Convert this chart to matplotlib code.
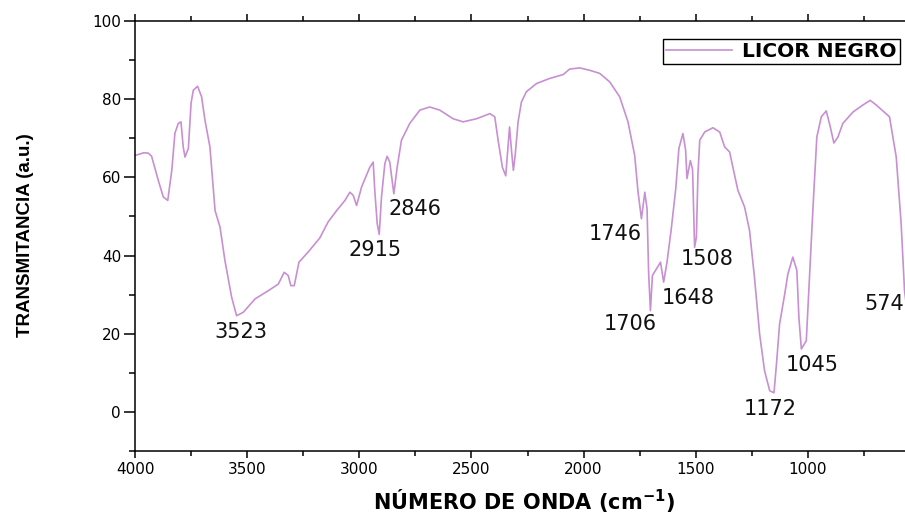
import matplotlib
matplotlib.use("Agg")
import matplotlib.pyplot as plt
from matplotlib.ticker import MultipleLocator

wavenumber = [4000, 3960, 3941, 3926, 3896, 3874, 3854, 3836, 3822, 3807, 3795, 3785, 3777, 3762,
              3750, 3740, 3721, 3703, 3688, 3666, 3643, 3621, 3599, 3569, 3547, 3517, 3465, 3406,
              3361, 3335, 3317, 3305, 3290, 3269, 3228, 3176, 3139, 3101, 3064, 3042, 3027, 3012,
              2990, 2953, 2938, 2931, 2920, 2911, 2901, 2886, 2876, 2864, 2846, 2831, 2812, 2775,
              2730, 2686, 2641, 2582, 2537, 2477, 2418, 2396, 2381, 2362, 2347, 2337, 2330, 2320,
              2313, 2305, 2292, 2277, 2255, 2210, 2151, 2091, 2062, 2017, 1973, 1928, 1883, 1839,
              1802, 1772, 1757, 1742, 1727, 1717, 1710, 1702, 1693, 1675, 1657, 1643, 1628, 1609,
              1589, 1575, 1557, 1545, 1539, 1524, 1514, 1505, 1497, 1490, 1482, 1460, 1423, 1393,
              1371, 1349, 1312, 1282, 1260, 1238, 1215, 1193, 1170, 1151, 1140, 1126, 1103, 1089,
              1067, 1049, 1040, 1029, 1007, 992, 977, 960, 940, 918, 900, 884, 866, 844, 799, 755,
              722, 695, 636, 606, 584, 569, 560]
transmittance = [65.6, 66.3, 66.2, 65.4, 59.2, 55.0, 54.1, 61.8, 71.3, 73.8, 74.2, 67.8, 65.2, 67.4,
                 79.0, 82.3, 83.3, 80.6, 74.6, 67.8, 51.5, 47.3, 38.7, 29.3, 24.6, 25.5, 28.9, 31.0,
                 32.7, 35.7, 34.9, 32.3, 32.3, 38.3, 40.9, 44.5, 48.6, 51.5, 54.1, 56.2, 55.4, 52.8,
                 57.5, 62.6, 63.9, 56.7, 48.1, 45.4, 55.0, 63.5, 65.4, 63.9, 55.8, 62.6, 69.5, 73.8,
                 77.2, 78.0, 77.2, 75.0, 74.2, 75.0, 76.3, 75.5, 69.5, 62.6, 60.4, 67.8, 72.9, 66.0,
                 61.8, 65.6, 74.2, 79.3, 81.9, 84.0, 85.3, 86.3, 87.7, 88.0, 87.4, 86.6, 84.4, 80.6,
                 74.2, 65.6, 56.2, 49.4, 56.2, 52.0, 35.7, 25.9, 34.9, 36.6, 38.3, 33.2, 38.3, 46.8,
                 57.1, 67.4, 71.2, 67.0, 59.7, 64.3, 62.0, 42.1, 44.7, 60.9, 69.5, 71.6, 72.7, 71.6,
                 67.8, 66.5, 56.7, 52.4, 46.4, 34.4, 19.9, 10.5, 5.4, 4.9, 12.2, 22.5, 30.2, 35.3,
                 39.6, 36.2, 24.2, 16.1, 18.2, 35.3, 52.4, 70.3, 75.5, 77.0, 72.9, 68.8, 70.3, 73.8,
                 76.7, 78.5, 79.7, 78.5, 75.5, 65.2, 48.1, 31.0, 27.0]

peak_labels = ["3523", "2915", "2846", "1746", "1706", "1648", "1508", "1172", "1045", "574"]
label_x = [3530, 2930, 2752, 1857, 1794, 1535, 1451, 1166, 979, 747]
label_y = [20.5, 41.5, 51.8, 45.6, 22.6, 29.2, 39.0, 0.8, 12.0, 27.7]
label_ha = ["center"] * 9 + ["left"]

series_name = "LICOR NEGRO"
x_ticks = [4000, 3500, 3000, 2500, 2000, 1500, 1000]
y_ticks = [0, 20, 40, 60, 80, 100]

line_color = "#c88fd2"

fig = plt.figure(figsize=(9.05, 5.15), dpi=100)
ax = fig.add_axes([135 / 905, 64 / 515, 785 / 905, 430 / 515])

ax.plot(wavenumber, transmittance, color=line_color, lw=1.2, label=series_name)

ax.set_xlim(4000, 500)
ax.set_ylim(-10, 100)
ax.set_xticks(x_ticks)
ax.set_yticks(y_ticks)
ax.xaxis.set_minor_locator(MultipleLocator(250))
ax.yaxis.set_minor_locator(MultipleLocator(10))
ax.tick_params(axis="x", which="major", direction="out", length=5, width=1.1,
               labelsize=11, top=True, pad=3)
ax.tick_params(axis="x", which="minor", direction="out", length=3.5, width=1.1, top=True)
ax.tick_params(axis="y", which="major", direction="out", length=8, width=1.1,
               labelsize=11, pad=2)
ax.tick_params(axis="y", which="minor", direction="out", length=4, width=1.1)
for lab in ax.get_xticklabels() + ax.get_yticklabels():
    lab.set_family("DejaVu Sans")
for s in ax.spines.values():
    s.set_linewidth(1.1)

for t, x, y, ha in zip(peak_labels, label_x, label_y, label_ha):
    ax.text(x, y, t, ha=ha, va="center", fontsize=15, family="DejaVu Sans", color="#111111")

ax.set_xlabel("NÚMERO DE ONDA (cm$^{\\mathbf{-1}}$)", fontsize=15, fontweight="bold",
              family="DejaVu Sans")
ax.xaxis.set_label_coords(0.495, -0.117)
ax.xaxis.label.set_va("center")
ax.set_ylabel("TRANSMITANCIA (a.u.)", fontsize=13.5, fontweight="bold",
              family="Liberation Sans")
ax.yaxis.set_label_coords(-0.140, 0.502)
ax.yaxis.label.set_va("center")

leg = ax.legend(loc="upper right", bbox_to_anchor=((900 - 135) / 785, (476 - 64) / 430),
                frameon=True, fancybox=False, edgecolor="black", framealpha=1,
                prop={"family": "DejaVu Sans", "weight": "bold", "size": 14.5},
                handlelength=3.3, handletextpad=0.5, borderpad=0.15, borderaxespad=0)
leg.get_frame().set_linewidth(1.0)

fig.savefig("out.png", dpi=100)
